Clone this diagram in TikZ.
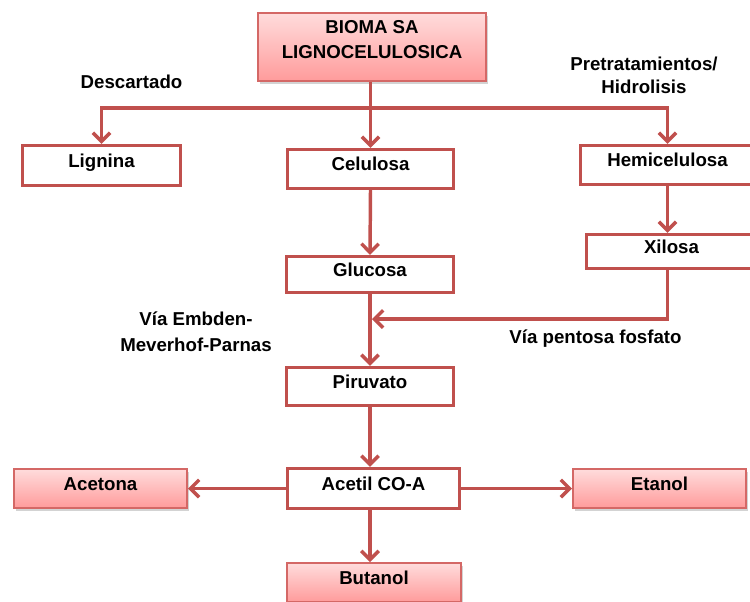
\documentclass[tikz,border=0pt]{standalone}
\usepackage{fontspec}
\setmainfont{Liberation Sans}
\usetikzlibrary{arrows.meta,shadows}
\definecolor{linkred}{RGB}{192,80,77}
\definecolor{pinktop}{RGB}{255,220,220}
\definecolor{pinkbot}{RGB}{255,155,155}
\definecolor{pinkedge}{RGB}{212,104,102}

\begin{document}
\begin{tikzpicture}[x=0.75pt,y=-0.75pt,
  every node/.style={font=\fontsize{14}{17}\selectfont\bfseries, text=black},
  stepbox/.style={draw=linkred, line width=2.5pt, fill=white, inner xsep=2pt, inner ysep=0pt,
    text height=10pt, text depth=7.4pt,
    drop shadow={shadow xshift=0.8pt, shadow yshift=-1pt, opacity=0.15}},
  prodbox/.style={draw=pinkedge, line width=1.5pt, top color=pinktop, bottom color=pinkbot,
    inner ysep=0pt, text height=10pt, text depth=7.4pt,
    drop shadow={shadow xshift=1.3pt, shadow yshift=-2pt, opacity=0.35}},
  link/.style={draw=linkred, line width=2.6pt, -{Straight Barb[length=6.5pt,width=13pt]}},
  note/.style={inner sep=0pt, align=center}
]
\path[use as bounding box, clip] (0,0) rectangle (750,601);

% source material and fractions
\node[prodbox, minimum width=171pt, minimum height=51pt, align=center,
      text height=28pt, text depth=11.5pt] (bio) at (372,47) {BIOMA SA\\[1.75pt]LIGNOCELULOSICA};
\node[stepbox, minimum width=118.5pt, minimum height=30pt] (lig) at (101.5,165.5) {Lignina};
\node[stepbox, minimum width=124.5pt, minimum height=29.25pt] (cel) at (370.5,169) {Celulosa};
\node[stepbox, minimum width=130.5pt, minimum height=29.25pt] (hemi) at (667.5,165) {Hemicelulosa};
\node[stepbox, minimum width=127.5pt, minimum height=25.5pt] (xil) at (671.5,251.5) {Xilosa};
\node[stepbox, minimum width=125.25pt, minimum height=27pt] (glu) at (370,274.5) {Glucosa};
\node[stepbox, minimum width=125.25pt, minimum height=28.5pt] (pir) at (370,386.5) {Piruvato};
\node[stepbox, minimum width=129pt, minimum height=30pt] (ace) at (373.5,488.5) {Acetil CO-A};

% end products
\node[prodbox, minimum width=129.75pt, minimum height=29.25pt] (acn) at (100.5,488.5) {Acetona};
\node[prodbox, minimum width=129.75pt, minimum height=29.25pt] (eta) at (659.5,488.5) {Etanol};
\node[prodbox, minimum width=130.5pt, minimum height=29.25pt] (but) at (374,582.5) {Butanol};

% free labels
\node[note, anchor=base] (discard) at (131.5,88) {Descartado};
\node[note, anchor=north, font=\fontsize{14}{17.25}\selectfont\bfseries] (pretreat) at (644,57) {Pretratamientos/\\Hidrolisis};
\node[note, anchor=north, font=\fontsize{14}{19.5}\selectfont\bfseries] (emp) at (196,312) {Vía Embden-\\Meverhof-Parnas};
\node[note, anchor=base] (ppp) at (595.5,343) {Vía pentosa fosfato};

% connectors
\coordinate (split) at (370.5,108);
\coordinate (merge) at (372,319);
\draw[link] (bio.south -| cel.north) -- (cel.north);
\draw[link] (split) -| (lig.north);
\draw[link] (split) -| (hemi.north);
\draw[link] (hemi.south) -- (hemi.south |- xil.north);
\draw[link] (cel.south) -- (glu.north);
\draw[link] (glu.south) -- (pir.north);
\draw[link] (xil.south -| hemi.south) |- (merge);
\draw[link] (pir.south) -- (pir.south |- ace.north);
\draw[link] (ace.west) -- (acn.east);
\draw[link] (ace.east) -- (eta.west);
\draw[link] (ace.south -| pir.south) -- (pir.south |- but.north);
\end{tikzpicture}
\end{document}
